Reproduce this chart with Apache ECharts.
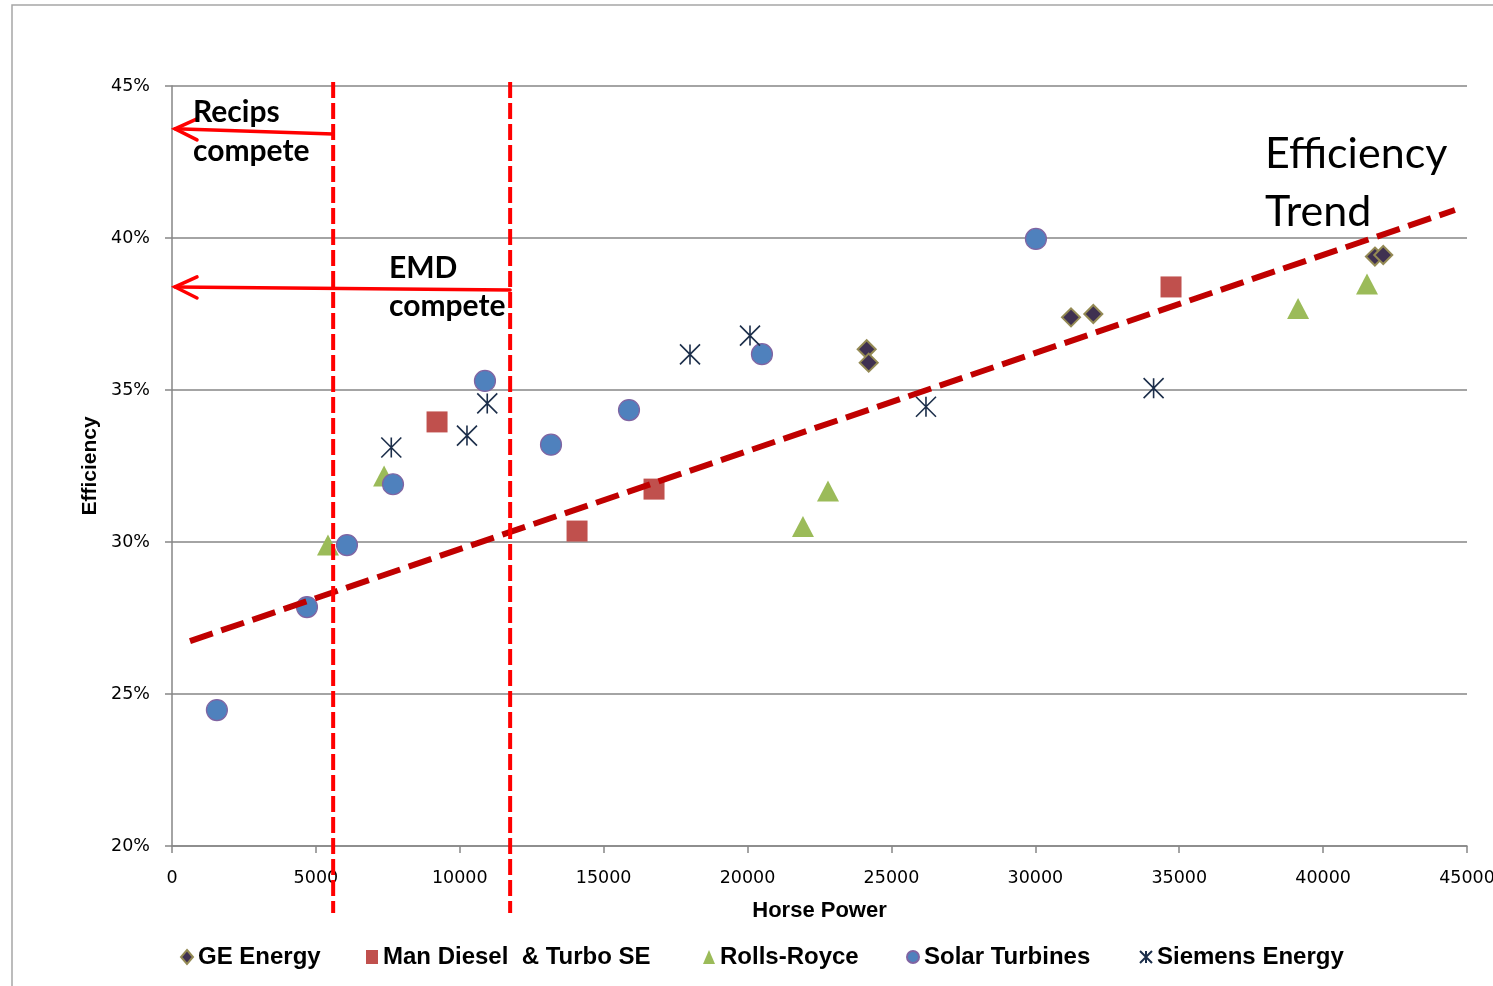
<!DOCTYPE html>
<html>
<head>
<meta charset="utf-8">
<script src="https://cdn.jsdelivr.net/npm/echarts@6/dist/echarts.min.js"></script>
<style>html,body{margin:0;padding:0;background:#fff;}#c{width:1493px;height:986px;}</style>
</head>
<body>
<div id="c"></div>
<script>
// ---- data (Horse Power, Efficiency %) ----
const geEnergy = [[24140, 36.34], [24210, 35.90], [31240, 37.39], [32015, 37.50], [41800, 39.39], [42090, 39.44]];
const manDiesel = [[9210, 33.95], [14075, 30.36], [16750, 31.74], [34715, 38.39]];
const rollsRoyce = [[5420, 29.90], [7370, 32.17], [21925, 30.51], [22795, 31.68], [39130, 37.68], [41525, 38.49]];
const solarTurbines = [[1560, 24.47], [4690, 27.86], [6080, 29.90], [7680, 31.90], [10875, 35.30], [13170, 33.20], [15880, 34.34], [20500, 36.18], [30020, 39.97]];
const siemensEnergy = [[7620, 33.11], [10250, 33.50], [10955, 34.56], [18000, 36.17], [20085, 36.79], [26200, 34.45], [34110, 35.06]];
const trendLine = [[625, 26.74], [44580, 40.92]];
// competition boundaries: [HP, top %, bottom %]
const boundaries = [[5600, 45.13, 17.8], [11750, 45.13, 17.8]];
// arrows: [from HP, from %, to HP, to %]
const arrows = [[5600, 43.42, 104, 43.59], [11750, 38.29, 104, 38.39]];
const seriesNames = ['GE Energy', 'Man Diesel  & Turbo SE', 'Rolls-Royce', 'Solar Turbines', 'Siemens Energy'];
const xTicks = {min: 0, max: 45000, interval: 5000};
const yTicks = {min: 20, max: 45, interval: 5};

const chart = echarts.init(document.getElementById('c'), null, {renderer: 'canvas'});
const legendFont = {fontFamily: 'Liberation Sans, Arial, sans-serif', fontWeight: 'bold', fontSize: 24, color: '#000'};
const legendLefts = [180, 366, 703, 906, 1139];
const legends = seriesNames.map((n, i) => ({
  data: [n], left: legendLefts[i], top: 945, itemWidth: 12, itemHeight: 14, itemGap: 0,
  textStyle: legendFont, padding: 0, selectedMode: false
}));

const option = {
  backgroundColor: '#fff',
  animation: false,
  grid: {left: 172, right: 26, top: 86, bottom: 140, containLabel: false, outerBoundsMode: 'none'},
  legend: legends,
  xAxis: {
    type: 'value', min: xTicks.min, max: xTicks.max, interval: xTicks.interval,
    name: 'Horse Power', nameLocation: 'middle', nameGap: 54,
    nameTextStyle: {fontFamily: 'Liberation Sans, Arial, sans-serif', fontWeight: 'bold', fontSize: 22, color: '#000'},
    axisLine: {show: true, lineStyle: {color: '#868686', width: 1.5}},
    axisTick: {show: true, length: 7, lineStyle: {color: '#868686', width: 1.5}},
    axisLabel: {margin: 23, fontFamily: 'DejaVu Sans', fontSize: 17.5, color: '#000', formatter: function (v) { return String(v); }},
    splitLine: {show: false}
  },
  yAxis: {
    type: 'value', min: yTicks.min, max: yTicks.max, interval: yTicks.interval,
    name: 'Efficiency', nameLocation: 'middle', nameGap: 68, nameRotate: 90,
    nameTextStyle: {fontFamily: 'Liberation Sans, Arial, sans-serif', fontWeight: 'bold', fontSize: 21, color: '#000'},
    axisLine: {show: true, lineStyle: {color: '#868686', width: 1.5}},
    axisTick: {show: true, length: 7, lineStyle: {color: '#868686', width: 1.5}},
    axisLabel: {margin: 22, fontFamily: 'DejaVu Sans', fontSize: 17.5, color: '#000', formatter: '{value}%'},
    splitLine: {show: true, lineStyle: {color: '#868686', width: 1.5}}
  },
  graphic: [
    {type: 'rect', z: -10, shape: {x: 12, y: 5, width: 1600, height: 1100}, style: {fill: 'none', stroke: '#A6A6A6', lineWidth: 1.5}, silent: true},
    {type: 'text', x: 193, y: 112, z: 100, style: {text: 'Recips', font: 'bold 30px Lato', fill: '#000', verticalAlign: 'middle'}},
    {type: 'text', x: 193, y: 151, z: 100, style: {text: 'compete', font: 'bold 30px Lato', fill: '#000', verticalAlign: 'middle'}},
    {type: 'text', x: 389, y: 268, z: 100, style: {text: 'EMD', font: 'bold 30px Lato', fill: '#000', verticalAlign: 'middle'}},
    {type: 'text', x: 389, y: 306, z: 100, style: {text: 'compete', font: 'bold 30px Lato', fill: '#000', verticalAlign: 'middle'}},
    {type: 'text', x: 1265, y: 154, z: 100, style: {text: 'Efficiency', font: '43px Lato', fill: '#000', verticalAlign: 'middle'}},
    {type: 'text', x: 1265, y: 212, z: 100, style: {text: 'Trend', font: '43px Lato', fill: '#000', verticalAlign: 'middle'}}
  ],
  series: [
    {name: seriesNames[0], type: 'scatter', data: geEnergy, symbol: 'diamond', symbolSize: 18,
     itemStyle: {color: '#3F3151', borderColor: '#948A54', borderWidth: 2, opacity: 1}},
    {name: seriesNames[1], type: 'scatter', data: manDiesel, symbol: 'rect', symbolSize: 21,
     itemStyle: {color: '#C0504D', opacity: 1}},
    {name: seriesNames[2], type: 'scatter', data: rollsRoyce, symbol: 'triangle', symbolSize: [22, 21],
     itemStyle: {color: '#9BBB59', opacity: 1}},
    {name: seriesNames[3], type: 'scatter', data: solarTurbines, symbol: 'circle', symbolSize: 21,
     itemStyle: {color: '#4F81BD', borderColor: '#8064A2', borderWidth: 1.2, opacity: 1}},
    {name: seriesNames[4], type: 'scatter', data: siemensEnergy, symbol: 'path://M0,0L20,20M20,0L0,20M10,0L10,20', symbolSize: 20,
     itemStyle: {color: 'rgba(0,0,0,0)', borderColor: '#1C2E4A', borderWidth: 1.6, opacity: 1}},
    {name: 'Trend', type: 'line', data: trendLine, showSymbol: false, symbol: 'none', z: 5,
     lineStyle: {color: '#C00000', width: 6, type: [24, 9]}},
    {name: 'Boundaries', type: 'custom', data: boundaries, z: 6, clip: false,
     renderItem: function (params, api) {
       const p1 = api.coord([api.value(0), api.value(1)]);
       const p2 = api.coord([api.value(0), api.value(2)]);
       return {type: 'line', shape: {x1: p1[0], y1: p1[1], x2: p2[0], y2: p2[1]},
               style: {stroke: '#FF0000', lineWidth: 4, lineDash: [16, 5], fill: null}};
     }},
    {name: 'Arrows', type: 'custom', data: arrows, z: 7, clip: false,
     renderItem: function (params, api) {
       const a = api.coord([api.value(0), api.value(1)]);
       const b = api.coord([api.value(2), api.value(3)]);
       const st = {stroke: '#FF0000', lineWidth: 3.5, fill: null, lineCap: 'round'};
       return {type: 'group', children: [
         {type: 'line', shape: {x1: a[0], y1: a[1], x2: b[0], y2: b[1]}, style: st},
         {type: 'polyline', shape: {points: [[b[0] + 22, b[1] - 10], [b[0], b[1]], [b[0] + 22, b[1] + 11]]}, style: st}
       ]};
     }}
  ]
};
chart.setOption(option);
</script>
</body>
</html>
